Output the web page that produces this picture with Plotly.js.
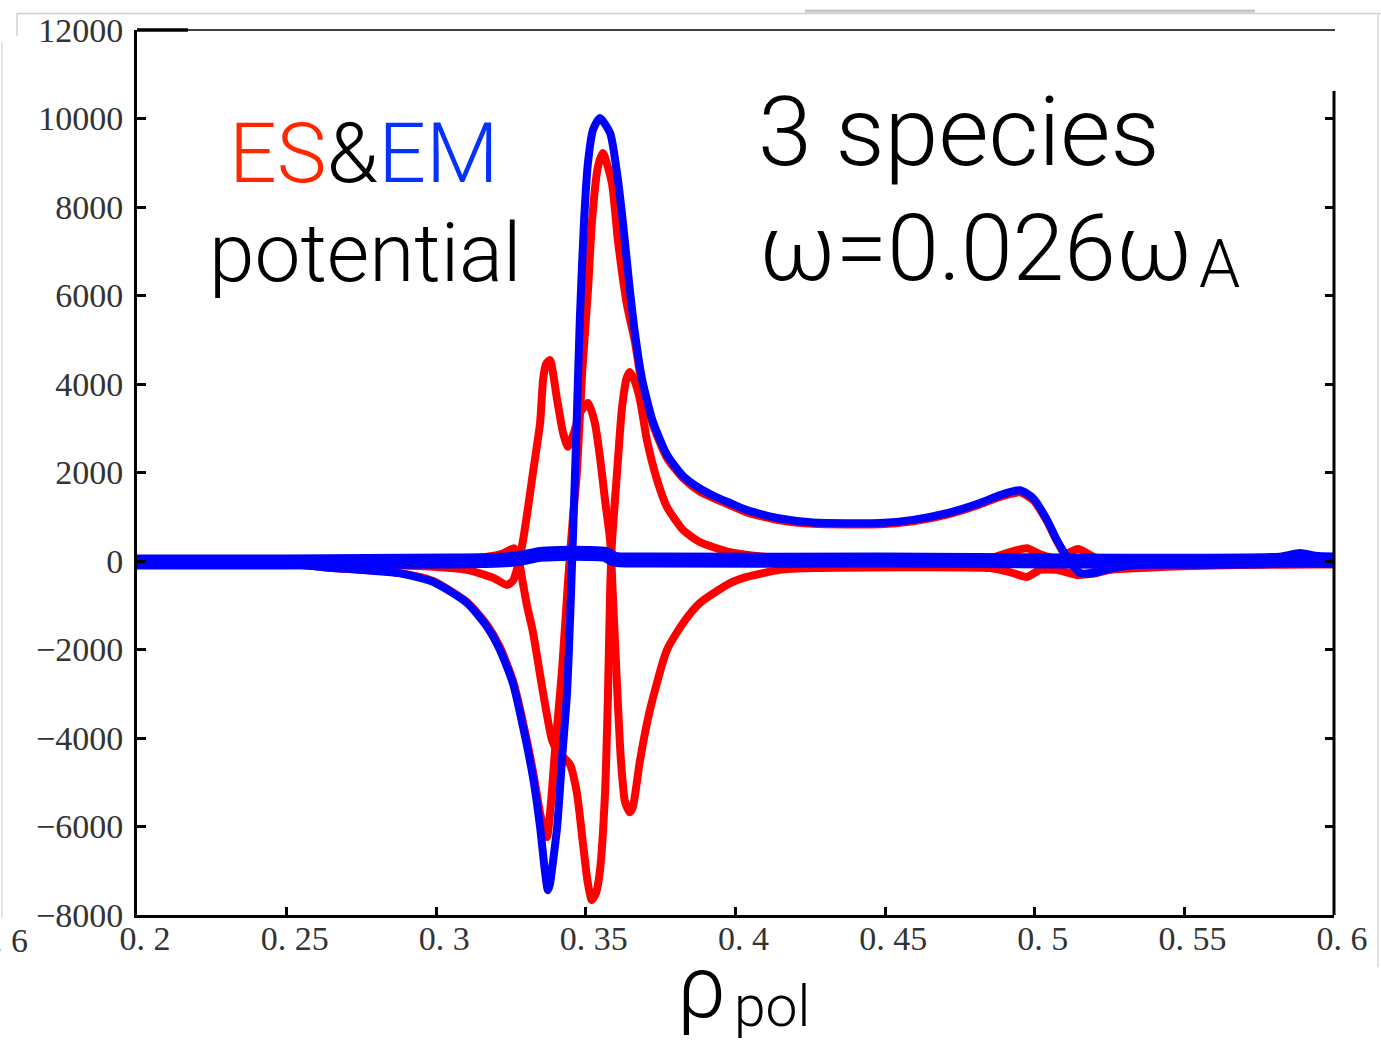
<!DOCTYPE html>
<html><head><meta charset="utf-8">
<script src="https://cdn.plot.ly/plotly-3.0.1.min.js"></script>
<style>html,body{margin:0;padding:0;background:#fff;}</style>
</head><body>
<div id="chart" style="width:1381px;height:1041px;"></div>
<script>
// ---- data (rho_pol, potential) ----
const emMainX = [0.2,0.25,0.2645,0.2879,0.2989,0.3103,0.317,0.3213,0.3256,0.329,0.3323,0.3347,0.3363,0.3373,0.338,0.339,0.3404,0.342,0.3437,0.345,0.346,0.347,0.348,0.3494,0.3507,0.3524,0.3547,0.3581,0.3604,0.3624,0.3647,0.3664,0.3688,0.3724,0.3771,0.3825,0.3881,0.3925,0.3982,0.4038,0.4149,0.4259,0.4483,0.4593,0.4707,0.4817,0.4884,0.4951,0.4994,0.5041,0.5074,0.5108,0.5151,0.5195,0.5262,0.5352,0.6];
const emMainY = [-60,-70,-150,-280,-470,-950,-1490,-2010,-2760,-3750,-4880,-6010,-7000,-7440,-7300,-6800,-6010,-4500,-2980,-800,1200,3300,5500,7700,9000,9750,10010,9670,8770,7640,6120,5150,4100,3150,2400,1920,1640,1480,1310,1150,960,870,860,930,1080,1310,1490,1600,1420,930,470,90,-270,-270,-160,-80,-60];

const emSmallX = [0.2,0.25,0.3046,0.3213,0.328,0.3347,0.3414,0.3507,0.3564,0.3597,0.3714,0.4483,0.582,0.5886,0.5937,0.6];
const emSmallY = [-20,-20,0,20,60,150,170,170,150,40,20,20,20,100,40,20];

const esAX = [0.2,0.25,0.2645,0.2879,0.2989,0.3103,0.317,0.3213,0.3256,0.329,0.3323,0.3347,0.3363,0.337,0.3383,0.3397,0.342,0.344,0.3457,0.347,0.3487,0.3507,0.352,0.354,0.3557,0.3587,0.3607,0.3637,0.3664,0.3688,0.3724,0.3771,0.3825,0.3881,0.3982,0.4038,0.4149,0.4259,0.4483,0.4593,0.4707,0.4817,0.4884,0.4951,0.4994,0.5041,0.5074,0.5108,0.5151,0.5195,0.5262,0.5352,0.6];
const esAY = [-40,-60,-150,-270,-450,-930,-1450,-1950,-2700,-3650,-4750,-5700,-6150,-6240,-5500,-4270,-2500,-500,1000,2000,4200,6120,7640,8900,9220,8540,7250,5800,4950,3950,3080,2330,1870,1570,1260,1100,920,840,830,900,1050,1280,1450,1550,1380,900,450,60,-290,-290,-180,-100,-80];

const esBX = [0.2,0.25,0.2879,0.3136,0.3213,0.3246,0.326,0.3273,0.3287,0.3303,0.3323,0.3357,0.3387,0.3407,0.3427,0.3447,0.347,0.349,0.3507,0.352,0.3534,0.3547,0.3564,0.3574,0.3581,0.3587,0.3604,0.3621,0.3637,0.3647,0.3664,0.3681,0.3704,0.3738,0.3771,0.3825,0.3881,0.3982,0.4149,0.455,0.485,0.4917,0.4974,0.5018,0.5074,0.5145,0.5201,0.5385,0.6];
const esBY = [20,20,30,70,150,250,290,120,-400,-1000,-1600,-2980,-4050,-4320,-4450,-4600,-5240,-6370,-7300,-7660,-7500,-7000,-5240,-2980,-720,400,1990,3480,4150,4270,4050,3640,2730,1830,1220,700,430,200,60,30,60,200,290,150,60,270,80,20,20];

const esCX = [0.2,0.25,0.2989,0.3103,0.319,0.3236,0.3256,0.3273,0.329,0.3307,0.3323,0.3347,0.3357,0.3367,0.338,0.3404,0.3424,0.344,0.346,0.348,0.3507,0.353,0.3547,0.3564,0.3581,0.3591,0.3604,0.3617,0.3631,0.3647,0.3657,0.3681,0.3714,0.3771,0.3825,0.3881,0.3982,0.4038,0.4149,0.4259,0.485,0.4917,0.4974,0.5018,0.5074,0.5145,0.5218,0.5495,0.6];
const esCY = [-20,-30,-130,-200,-380,-540,-450,-100,470,1220,1990,3120,4100,4450,4540,3640,2890,2580,2900,3340,3570,3120,2350,1380,470,-900,-2800,-4500,-5450,-5680,-5560,-4500,-3370,-2010,-1400,-950,-500,-360,-200,-160,-160,-250,-360,-200,-200,-320,-220,-120,-60];

const xTickVals = [0.2,0.25,0.3,0.35,0.4,0.45,0.5,0.55,0.6];
const xTickText = ["0. 2","0. 25","0. 3","0. 35","0. 4","0. 45","0. 5","0. 55","0. 6"];
const yTickVals = [-8000,-6000,-4000,-2000,0,2000,4000,6000,8000,10000,12000];
const yTickText = ["\u22128000","\u22126000","\u22124000","\u22122000","0","2000","4000","6000","8000","10000","12000"];
const rightTickVals = [-6000,-4000,-2000,0,2000,4000,6000,8000,10000];

// ---- layout helpers (pixel -> paper) ----
const L = 137, R = 1334, T = 30, B = 915;
const PX = x => (x - L) / (R - L);
const PY = y => (B - y) / (B - T);

const RED = '#ff0000', BLUE = '#0000ff';
const tr = (x, y, c, w, yax) => ({x, y, type: 'scatter', mode: 'lines', yaxis: yax || 'y',
  line: {color: c, width: w, shape: 'spline', smoothing: 0.6}, hoverinfo: 'skip', showlegend: false});

const data = [
  tr(esAX, esAY, RED, 8),
  tr(esBX, esBY, RED, 8),
  tr(esCX, esCY, RED, 8),
  tr(emSmallX, emSmallY, BLUE, 15, 'y2'),
  tr(emMainX, emMainY, BLUE, 8)
];

const tickFont = {family: '"Liberation Serif", serif', size: 34, color: '#333'};
const txtFont = (s, c) => ({family: 'Roboto, "Liberation Sans", sans-serif', size: s, color: c || '#000', weight: 300});

const layout = {
  width: 1381, height: 1041,
  margin: {l: L, r: 1381 - R, t: T, b: 1041 - B, pad: 0},
  paper_bgcolor: '#fff', plot_bgcolor: '#fff',
  showlegend: false,
  xaxis: {range: [0.2, 0.6], tickmode: 'array', tickvals: xTickVals, ticktext: xTickText,
    ticks: 'inside', ticklen: 8, tickwidth: 3, tickcolor: '#000',
    showline: true, linewidth: 3, linecolor: '#000', showgrid: false, zeroline: false,
    tickfont: tickFont, ticklabelshift: 8, ticklabelstandoff: -9, fixedrange: true},
  yaxis: {range: [-8000, 12000], tickmode: 'array', tickvals: yTickVals, ticktext: yTickText,
    ticks: 'inside', ticklen: 9, tickwidth: 3, tickcolor: '#000',
    showline: true, linewidth: 3, linecolor: '#000', showgrid: false, zeroline: false,
    tickfont: tickFont, ticklabelstandoff: 4, fixedrange: true},
  yaxis2: {range: [-8000, 12000], overlaying: 'y', side: 'right', anchor: 'x', tickmode: 'array', tickvals: rightTickVals,
    ticks: 'inside', ticklen: 9, tickwidth: 3, tickcolor: '#000', showticklabels: false,
    showline: false, showgrid: false, zeroline: false, fixedrange: true},
  shapes: [
    {type: 'line', xref: 'paper', yref: 'paper', x0: 0, x1: PX(1335), y0: 1, y1: 1, line: {color: '#000', width: 1.5}},
    {type: 'line', xref: 'paper', yref: 'paper', x0: 0, x1: PX(188), y0: 1, y1: 1, line: {color: '#000', width: 3.5}},
    {type: 'line', xref: 'paper', yref: 'paper', x0: 1, x1: 1, y0: PY(91), y1: 0, line: {color: '#000', width: 3}},
    {type: 'line', xref: 'paper', yref: 'paper', x0: PX(17), x1: PX(1381), y0: PY(13.5), y1: PY(13.5), line: {color: '#d0d0d0', width: 1.5}},
    {type: 'line', xref: 'paper', yref: 'paper', x0: PX(805), x1: PX(1255), y0: PY(11), y1: PY(11), line: {color: '#c4c4c4', width: 3}},
    {type: 'line', xref: 'paper', yref: 'paper', x0: PX(17), x1: PX(17), y0: PY(13), y1: PY(36), line: {color: '#d0d0d0', width: 1.5}},
    {type: 'line', xref: 'paper', yref: 'paper', x0: PX(2), x1: PX(2), y0: PY(42), y1: PY(918), line: {color: '#dcdcdc', width: 1.5}},
    {type: 'line', xref: 'paper', yref: 'paper', x0: PX(1378), x1: PX(1378), y0: PY(13), y1: PY(967), line: {color: '#d8d8d8', width: 1.5}}
  ],
  annotations: [
    {xref: 'paper', yref: 'paper', x: PX(364), y: PY(154), xanchor: 'center', yanchor: 'middle', showarrow: false,
      text: '<span style="color:#ff2600">ES</span>&amp;<span style="color:#0433ff">EM</span>', font: txtFont(84)},
    {xref: 'paper', yref: 'paper', x: PX(365), y: PY(253), xanchor: 'center', yanchor: 'middle', showarrow: false,
      text: 'potential', font: txtFont(82)},
    {xref: 'paper', yref: 'paper', x: PX(756), y: PY(132), xanchor: 'left', yanchor: 'middle', showarrow: false,
      text: '3 species', font: txtFont(97)},
    {xref: 'paper', yref: 'paper', x: PX(757), y: PY(248), xanchor: 'left', yanchor: 'middle', showarrow: false,
      text: '\u03c9=0.026\u03c9', font: txtFont(93)},
    {xref: 'paper', yref: 'paper', x: PX(1197), y: PY(264), xanchor: 'left', yanchor: 'middle', showarrow: false,
      text: 'A', font: txtFont(66)},
    {xref: 'paper', yref: 'paper', x: PX(675), y: PY(986), xanchor: 'left', yanchor: 'middle', showarrow: false,
      text: '\u03c1', font: txtFont(88)},
    {xref: 'paper', yref: 'paper', x: PX(732), y: PY(1006), xanchor: 'left', yanchor: 'middle', showarrow: false,
      text: 'pol', font: txtFont(57)},
    {xref: 'paper', yref: 'paper', x: PX(30), y: PY(940), xanchor: 'right', yanchor: 'middle', showarrow: false,
      text: '0. 6', font: tickFont}
  ]
};

Plotly.newPlot('chart', data, layout, {staticPlot: true, displayModeBar: false});
</script>
</body></html>
